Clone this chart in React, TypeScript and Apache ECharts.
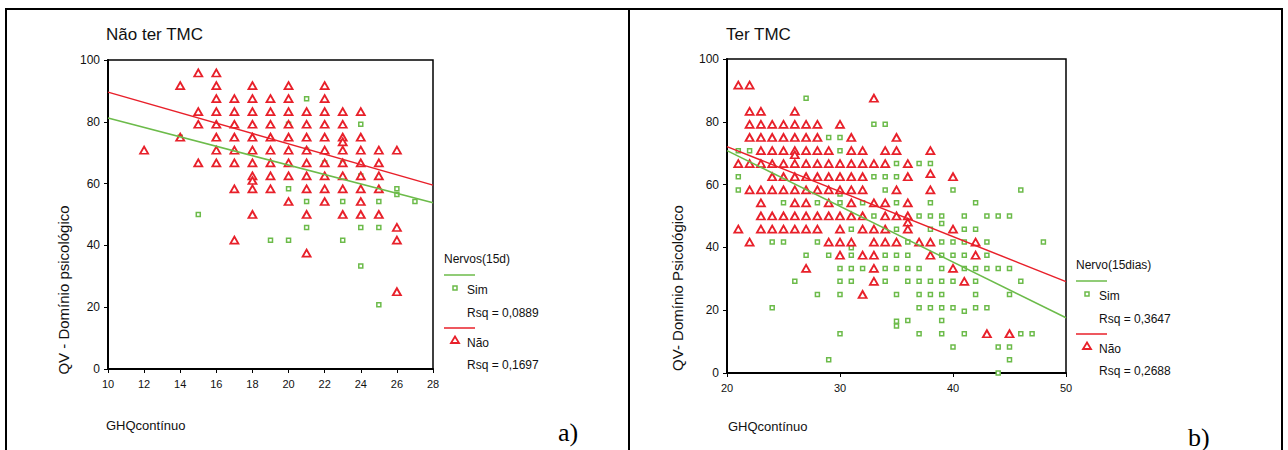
import React, { useEffect, useRef } from "react";
import * as echarts from "echarts";

// ---------- data ----------
const leftTitle = "Não ter TMC";
const rightTitle = "Ter TMC";
const leftYLabel = "QV - Domínio psicológico";
const rightYLabel = "QV- Domínio Psicológico";
const xLabel = "GHQcontínuo";
const leftLegendTitle = "Nervos(15d)";
const rightLegendTitle = "Nervo(15dias)";
const groupNames = ["Sim", "Não"];
const leftRsq = ["Rsq = 0,0889", "Rsq = 0,1697"];
const rightRsq = ["Rsq = 0,3647", "Rsq = 0,2688"];

// Panel a) Não ter TMC
const leftNao: number[][] = [
  [12, 70.8],
  [14, 91.7], [14, 75],
  [15, 95.8], [15, 83.3], [15, 79.2], [15, 66.7],
  [16, 95.8], [16, 91.7], [16, 87.5], [16, 83.3], [16, 79.2], [16, 75], [16, 70.8], [16, 66.7],
  [17, 87.5], [17, 83.3], [17, 79.2], [17, 75], [17, 70.8], [17, 66.7], [17, 58.3], [17, 41.7],
  [18, 91.7], [18, 87.5], [18, 83.3], [18, 79.2], [18, 75], [18, 70.8], [18, 66.7], [18, 62.5], [18, 61], [18, 58.3], [18, 50],
  [19, 87.5], [19, 83.3], [19, 79.2], [19, 75], [19, 70.8], [19, 66.7], [19, 62.5], [19, 58.3],
  [20, 91.7], [20, 87.5], [20, 83.3], [20, 79.2], [20, 75], [20, 70.8], [20, 66.7], [20, 62.5], [20, 54.2],
  [21, 83.3], [21, 79.2], [21, 75], [21, 70.8], [21, 66.7], [21, 62.5], [21, 58.3], [21, 50], [21, 37.5],
  [22, 91.7], [22, 87.5], [22, 83.3], [22, 79.2], [22, 75], [22, 70.8], [22, 66.7], [22, 62.5], [22, 58.3], [22, 54.2],
  [23, 83.3], [23, 79.2], [23, 75], [23, 73.5], [23, 70.8], [23, 66.7], [23, 62.5], [23, 58.3], [23, 50],
  [24, 83.3], [24, 75], [24, 70.8], [24, 66.7], [24, 62.5], [24, 58.3], [24, 54.2], [24, 50],
  [25, 70.8], [25, 66.7], [25, 62.5], [25, 58.3], [25, 50],
  [26, 70.8], [26, 45.8], [26, 41.7], [26, 25],
];
const leftSim: number[][] = [
  [14, 75], [15, 50], [20, 58.3], [21, 87.5], [24, 79.2], [21, 54.2], [23, 54.2], [25, 54.2],
  [27, 54.2], [26, 58.3], [26, 56.5], [21, 45.8], [24, 45.8], [25, 45.8], [19, 41.7], [20, 41.7],
  [23, 41.7], [24, 33.3], [25, 20.8], [20, 79.2], [21, 70.8], [22, 66.7], [23, 66.7], [24, 62.5],
];
const leftFitSim: number[][] = [[10, 81.2], [28, 53.8]];
const leftFitNao: number[][] = [[10, 89.6], [28, 59.5]];

// Panel b) Ter TMC
const rightNao: number[][] = [
  [21, 91.7], [21, 66.7], [21, 45.8],
  [22, 91.7], [22, 83.3], [22, 79.2], [22, 75], [22, 66.7], [22, 58.3], [22, 41.7],
  [23, 83.3], [23, 79.2], [23, 75], [23, 70.8], [23, 66.7], [23, 58.3], [23, 54.2], [23, 50], [23, 45.8],
  [24, 79.2], [24, 75], [24, 70.8], [24, 66.7], [24, 62.5], [24, 58.3], [24, 50], [24, 45.8],
  [25, 79.2], [25, 75], [25, 70.8], [25, 66.7], [25, 62.5], [25, 58.3], [25, 50], [25, 45.8],
  [26, 83.3], [26, 79.2], [26, 75], [26, 70.8], [26, 69.5], [26, 66.7], [26, 62.5], [26, 58.3], [26, 54.2], [26, 50], [26, 45.8],
  [27, 79.2], [27, 75], [27, 70.8], [27, 66.7], [27, 62.5], [27, 58.3], [27, 54.2], [27, 50], [27, 45.8], [27, 33.3],
  [28, 79.2], [28, 75], [28, 70.8], [28, 66.7], [28, 62.5], [28, 58.3], [28, 50], [28, 45.8],
  [29, 70.8], [29, 66.7], [29, 62.5], [29, 58.3], [29, 54.2], [29, 50], [29, 41.7],
  [30, 79.2], [30, 66.7], [30, 62.5], [30, 58.3], [30, 50], [30, 45.8], [30, 41.7], [30, 37.5],
  [31, 75], [31, 70.8], [31, 66.7], [31, 62.5], [31, 58.3], [31, 54.2], [31, 50], [31, 41.7],
  [32, 70.8], [32, 66.7], [32, 62.5], [32, 58.3], [32, 50], [32, 45.8], [32, 37.5], [32, 25],
  [33, 87.5], [33, 66.7], [33, 54.2], [33, 45.8], [33, 41.7], [33, 37.5], [33, 33.3], [33, 29.2],
  [34, 70.8], [34, 66.7], [34, 54.2], [34, 50], [34, 45.8], [34, 41.7],
  [35, 75], [35, 70.8], [35, 58.3], [35, 50], [35, 41.7],
  [36, 66.7], [36, 62.5], [36, 54.2], [36, 50], [36, 48], [36, 45.8],
  [37, 41.7],
  [38, 70.8], [38, 63.5], [38, 58.3], [38, 41.7], [38, 37.5],
  [40, 62.5], [40, 45.8], [40, 33.3],
  [41, 29.2],
  [42, 41.7], [42, 37.5],
  [43, 12.5],
  [45, 12.5],
];
const rightSim: number[][] = [
  [21, 70.8], [21, 62.5], [21, 58.3],
  [22, 70.8],
  [24, 41.7], [24, 20.8],
  [25, 54.2], [25, 41.7],
  [26, 29.2],
  [27, 87.5], [27, 37.5],
  [28, 54.2], [28, 41.7], [28, 25],
  [29, 75], [29, 37.5], [29, 4.2],
  [30, 75], [30, 70.8], [30, 57], [30, 54.2], [30, 33.3], [30, 29.2], [30, 25], [30, 12.5],
  [31, 45.8], [31, 39.9], [31, 37.5], [31, 33.3], [31, 29.2],
  [32, 54.2], [32, 33.3],
  [33, 79.2], [33, 62.5], [33, 50],
  [34, 79.2], [34, 62.5], [34, 58.3], [34, 37.5], [34, 33.3], [34, 29.2],
  [35, 66.7], [35, 62.5], [35, 54.2], [35, 45.8], [35, 37.5], [35, 33.3], [35, 25], [35, 16.5], [35, 15],
  [36, 41.7], [36, 37.5], [36, 33.3], [36, 29.2], [36, 16.7],
  [37, 66.7], [37, 50], [37, 33.3], [37, 29.2], [37, 25], [37, 20.8], [37, 12.5],
  [38, 66.7], [38, 54.2], [38, 50], [38, 45.8], [38, 29.2], [38, 25], [38, 20.8],
  [39, 50], [39, 47.6], [39, 41.7], [39, 37.5], [39, 33.3], [39, 29.2], [39, 25], [39, 20.8], [39, 16.7], [39, 12.5],
  [40, 58.3], [40, 41.7], [40, 37.5], [40, 29.2], [40, 20.8], [40, 8.3],
  [41, 50], [41, 45.8], [41, 41.7], [41, 37.5], [41, 33.3], [41, 19.7], [41, 12.5],
  [42, 54.2], [42, 45.8], [42, 33.3], [42, 29.2], [42, 25], [42, 20.8],
  [43, 50], [43, 41.7], [43, 37.5], [43, 33.3], [43, 20.8],
  [44, 50], [44, 33.3], [44, 8.3], [44, 0],
  [45, 50], [45, 33.3], [45, 25], [45, 8.3], [45, 4.2],
  [46, 58.3], [46, 29.2], [46, 12.5],
  [47, 12.5],
  [48, 41.7],
];
const rightFitSim: number[][] = [[20, 70.8], [50, 17.6]];
const rightFitNao: number[][] = [[20, 72.1], [50, 29.1]];

// ---------- styling ----------
const RED = "#e8202a";
const GREEN = "#6cbb4a";
const FONT = "Liberation Sans, Arial, sans-serif";
const SERIF = "Liberation Serif, Times New Roman, serif";

function axisCommon() {
  return {
    type: "value" as const,
    axisLine: { show: true, onZero: false, lineStyle: { color: "#000", width: 2 } },
    axisTick: { show: true, inside: false, length: 4, lineStyle: { color: "#000", width: 1 } },
    splitLine: { show: false },
    axisLabel: { color: "#111", fontSize: 11, fontFamily: FONT },
  };
}

function triangle(x: number, y: number) {
  return {
    type: "polygon",
    shape: { points: [[x, y - 3.5], [x + 4, y + 3], [x - 4, y + 3]] },
    style: { fill: "#fff", stroke: RED, lineWidth: 1.8 },
    silent: true,
  };
}
function square(x: number, y: number) {
  return {
    type: "rect",
    shape: { x: x - 2, y: y - 2, width: 4, height: 4 },
    style: { fill: "#fff", stroke: GREEN, lineWidth: 1.5 },
    silent: true,
  };
}
function txt(x: number, y: number, text: string, size = 12, extra: any = {}) {
  return {
    type: "text",
    x,
    y,
    silent: true,
    style: {
      text,
      fill: "#111",
      font: `${size}px ${FONT}`,
      textVerticalAlign: "middle",
      ...extra,
    },
  };
}
function hline(x1: number, x2: number, y: number, color: string, w = 1.5) {
  return {
    type: "line",
    silent: true,
    shape: { x1, y1: y, x2, y2: y },
    style: { stroke: color, lineWidth: w },
  };
}
function vline(x: number, y1: number, y2: number, w = 2) {
  return {
    type: "line",
    silent: true,
    shape: { x1: x, y1, x2: x, y2 },
    style: { stroke: "#000", lineWidth: w },
  };
}

function legend(x: number, y: number, title: string, rsq: string[]) {
  return [
    txt(x, y, title),
    hline(x, x + 31, y + 16, GREEN),
    square(x + 11, y + 29),
    txt(x + 23, y + 31, groupNames[0]),
    txt(x + 23, y + 54, rsq[0]),
    hline(x, x + 31, y + 69, RED),
    triangle(x + 11, y + 81),
    txt(x + 23, y + 84, groupNames[1]),
    txt(x + 23, y + 106, rsq[1]),
  ];
}

export default function App() {
  const ref = useRef<HTMLDivElement>(null);
  useEffect(() => {
    if (!ref.current) return;
    const chart = echarts.init(ref.current, undefined, { renderer: "svg" });
    const scat = (data: number[][], idx: number, red: boolean) => ({
      type: "scatter",
      xAxisIndex: idx,
      yAxisIndex: idx,
      data,
      symbol: red ? "triangle" : "rect",
      symbolSize: red ? [8, 7] : 4,
      itemStyle: red
        ? { color: "#fff", borderColor: RED, borderWidth: 1.8, opacity: 1 }
        : { color: "#fff", borderColor: GREEN, borderWidth: 1.5, opacity: 1 },
      z: red ? 3 : 2,
      silent: true,
    });
    const fit = (data: number[][], idx: number, color: string) => ({
      type: "line",
      xAxisIndex: idx,
      yAxisIndex: idx,
      data,
      symbol: "none",
      lineStyle: { color, width: 1.5 },
      z: 4,
      silent: true,
    });
    chart.setOption({
      animation: false,
      backgroundColor: "#fff",
      grid: [
        { left: 108, top: 60, width: 325, height: 309, show: true, borderColor: "#000", borderWidth: 1.5, backgroundColor: "transparent" },
        { left: 727, top: 59, width: 339, height: 314, show: true, borderColor: "#000", borderWidth: 1.5, backgroundColor: "transparent" },
      ],
      xAxis: [
        { ...axisCommon(), gridIndex: 0, min: 10, max: 28, interval: 2, axisLabel: { ...axisCommon().axisLabel, margin: 9 } },
        { ...axisCommon(), gridIndex: 1, min: 20, max: 50, interval: 10, axisLabel: { ...axisCommon().axisLabel, margin: 9 } },
      ],
      yAxis: [
        { ...axisCommon(), gridIndex: 0, min: 0, max: 100, interval: 20, axisLabel: { ...axisCommon().axisLabel, fontSize: 12, margin: 8 } },
        { ...axisCommon(), gridIndex: 1, min: 0, max: 100, interval: 20, axisLabel: { ...axisCommon().axisLabel, fontSize: 12, margin: 8 } },
      ],
      series: [
        scat(leftSim, 0, false),
        scat(leftNao, 0, true),
        fit(leftFitSim, 0, GREEN),
        fit(leftFitNao, 0, RED),
        scat(rightSim, 1, false),
        scat(rightNao, 1, true),
        fit(rightFitSim, 1, GREEN),
        fit(rightFitNao, 1, RED),
      ],
      graphic: [
        // frame
        hline(5, 1283, 9, "#000", 2),
        vline(6, 9, 450),
        vline(629, 9, 450),
        vline(1282, 9, 450),
        // titles
        txt(106, 34, leftTitle, 17),
        txt(726, 34, rightTitle, 17),
        // y axis labels
        {
          type: "text", x: 63, y: 290, rotation: Math.PI / 2, silent: true,
          style: { text: leftYLabel, fill: "#111", font: `15px ${FONT}`, textAlign: "center", textVerticalAlign: "middle" },
        },
        {
          type: "text", x: 677, y: 288, rotation: Math.PI / 2, silent: true,
          style: { text: rightYLabel, fill: "#111", font: `15px ${FONT}`, textAlign: "center", textVerticalAlign: "middle" },
        },
        // x axis labels
        txt(106, 425, xLabel, 13),
        txt(728, 426, xLabel, 13),
        // panel letters
        {
          type: "text", x: 558, y: 432, silent: true,
          style: { text: "a)", fill: "#000", font: `26px ${SERIF}`, textVerticalAlign: "middle" },
        },
        {
          type: "text", x: 1188, y: 437, silent: true,
          style: { text: "b)", fill: "#000", font: `26px ${SERIF}`, textVerticalAlign: "middle" },
        },
        ...legend(444, 259, leftLegendTitle, leftRsq),
        ...legend(1076, 265, rightLegendTitle, rightRsq),
      ],
    });
    return () => chart.dispose();
  }, []);
  return (
    <div
      ref={ref}
      style={{ position: "absolute", left: 0, top: 0, width: 1288, height: 450, background: "#fff" }}
    />
  );
}
